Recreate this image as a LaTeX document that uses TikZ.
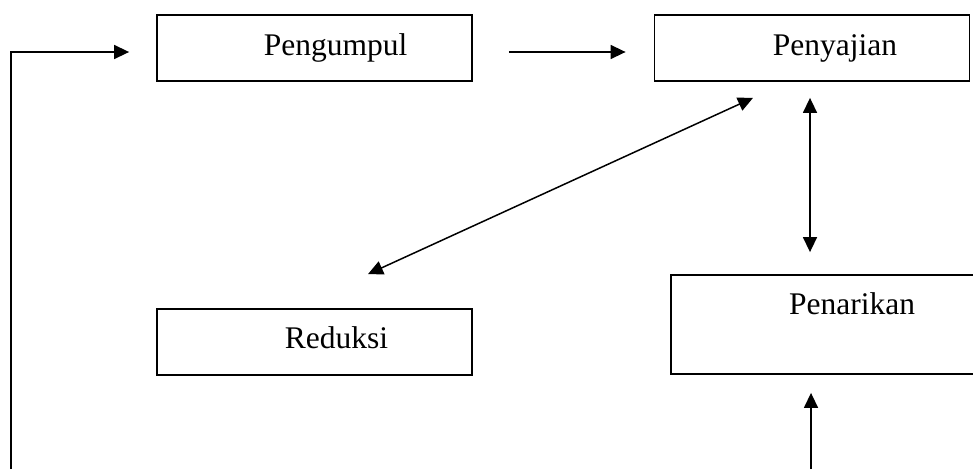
\documentclass[tikz,border=0pt]{standalone}
\usepackage{fontspec}
\setmainfont{Liberation Serif}
\usetikzlibrary{arrows.meta}
\begin{document}
\begin{tikzpicture}[x=1pt,y=-1pt,
  box/.style={draw,line width=1.8pt,minimum width=315pt,minimum height=66pt,inner sep=0pt},
  lbl/.style={anchor=base,inner sep=0pt,font=\fontsize{31.5}{38}\selectfont},
  arr/.style={line width=1.5pt,-{Triangle[length=15pt,width=14pt]}},
  darr/.style={line width=1.5pt,{Triangle[length=15pt,width=14pt]}-{Triangle[length=15pt,width=14pt]}}]
\useasboundingbox (0,0) rectangle (973,469);
\clip (0,0) rectangle (973,469);
% boxes
\node[box] (peng) at (314.5,48) {};
\node[box] (peny) at (812,48) {};
\node[box] (red) at (314.5,342) {};
\node[box,minimum height=99pt] (pen) at (828.5,324.5) {};
% texts
\node[lbl] (tpeng) at (335.5,55) {Pengumpul};
\node[lbl] (tpeny) at (835,55) {Penyajian};
\node[lbl] (tred) at (336.5,348) {Reduksi};
\node[lbl] (tpen) at (852,314) {Penarikan};
% connectors
\coordinate (fbstart) at (11,469);
\coordinate (botstart) at (811,469);
\draw[arr] (fbstart) |- ([xshift=-27pt,yshift=-4pt]peng.west);
\draw[arr] ([xshift=36pt,yshift=-4pt]peng.east) -- ([xshift=-28pt,yshift=-4pt]peny.west);
\draw[darr] ([xshift=53.5pt,yshift=34pt]red.north) -- ([xshift=-59pt,yshift=-16pt]peny.south);
\draw[darr] ([xshift=-2pt,yshift=-16pt]peny.south) -- ([xshift=-18.5pt,yshift=22pt]pen.north);
\draw[arr] (botstart) -- ([xshift=-17.5pt,yshift=-18pt]pen.south);
\end{tikzpicture}
\end{document}
